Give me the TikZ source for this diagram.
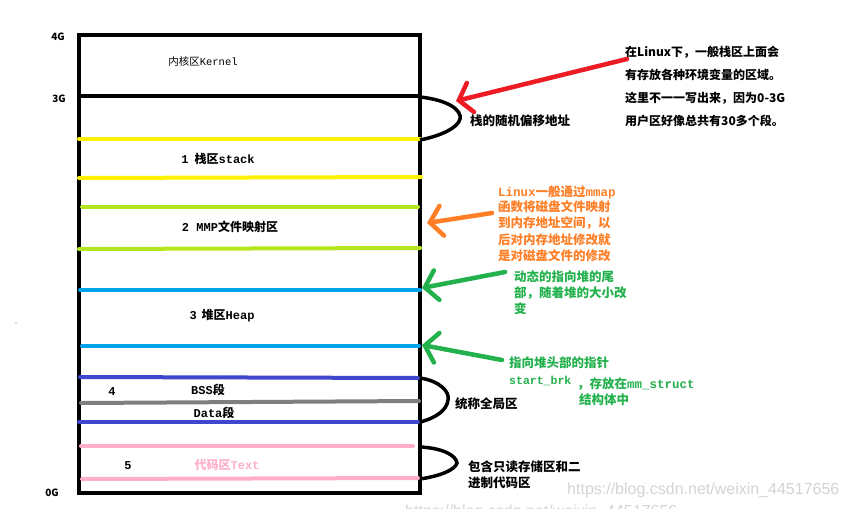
\documentclass[tikz,border=0pt]{standalone}
\usepackage{fontspec}
\setmainfont{Noto Sans CJK SC}
\newfontfamily\mono{Liberation Mono}
\newfontfamily\wmfont{Liberation Sans}
\usetikzlibrary{arrows.meta}
\definecolor{pyellow}{HTML}{FFF200}
\definecolor{plime}{HTML}{B5E61D}
\definecolor{psky}{HTML}{00A2E8}
\definecolor{pindigo}{HTML}{3F48CC}
\definecolor{pgray}{HTML}{7F7F7F}
\definecolor{ppink}{HTML}{FFAEC9}
\definecolor{pred}{HTML}{ED1C24}
\definecolor{porange}{HTML}{FF7F27}
\definecolor{pgreen}{HTML}{22B14C}
\definecolor{wmgray}{HTML}{D4D4D4}
\tikzset{
  seg/.style={line width=4pt, line cap=round},
  brace/.style={line width=3.5pt, black},
  lab/.style={font=\bfseries\fontsize{12}{14}\selectfont, inner sep=0pt},
  small/.style={font=\fontsize{10.5}{12}\selectfont, inner sep=0pt},
  note/.style={font=\bfseries\fontsize{12.5}{14}\selectfont, inner sep=0pt, anchor=west},
  wm/.style={font=\wmfont\fontsize{16}{18}\selectfont, text=wmgray, inner sep=0pt, anchor=west},
  parrow/.style={line width=4.5pt, line cap=round, line join=round,
     -{Straight Barb[length=12pt,width=30pt,line cap=round]}},
}
\begin{document}
\begin{tikzpicture}[x=1pt,y=-1pt]
\useasboundingbox (0,0) rectangle (850,508);
\fill[white] (0,0) rectangle (850,508);

% watermarks
\node[wm] (wm1) at (567,490) {https://blog.csdn.net/weixin\_44517656};
\begin{scope}
\clip (0,0) rectangle (850,508);
\node[wm] (wm2) at (405,512) {https://blog.csdn.net/weixin\_44517656};
\end{scope}

% box
\draw[line width=4pt] (79,35) rectangle (420,493);
\coordinate (boxL3) at (79,96);
\coordinate (boxR3) at (420,96);
\draw[line width=4pt] (boxL3) -- (boxR3);

% coloured separators
\draw[seg, pyellow] (79,139) -- (420,139);
\draw[seg, pyellow] (79,178) -- (421,177);
\draw[seg, plime] (82,207) -- (418,207);
\draw[seg, plime] (79,249) -- (420,248);
\draw[seg, psky] (80,290) -- (420,290);
\draw[seg, psky] (82,346) -- (419,346);
\draw[seg, pindigo] (80,377) -- (418,378);
\draw[seg, pgray] (81,403) -- (419,401);
\draw[seg, pindigo] (79,422) -- (418,422);
\draw[seg, ppink] (81,446) -- (413,446);
\draw[seg, ppink] (82,479) -- (418,478);

% address labels
\node[lab, font=\bfseries\fontsize{10}{12}\selectfont] (g4) at (58,37) {4G};
\node[lab, font=\bfseries\fontsize{10}{12}\selectfont] (g3) at (59,99) {3G};
\node[lab, font=\bfseries\fontsize{10}{12}\selectfont] (g0) at (52,493) {0G};

% region labels
\node[small] (kern) at (203,62) {内核区{\mono Kernel}};
\node[lab] (stk) at (218,159) {{\mono\bfseries 1}\hspace{6pt}栈区{\mono\bfseries stack}};
\node[lab] (mmp) at (230,227) {{\mono\bfseries 2 MMP}文件映射区};
\node[lab] (heap) at (222,316) {{\mono\bfseries 3}\hspace{5pt}堆区{\mono\bfseries Heap}};
\node[lab] (n4) at (112,392) {{\mono\bfseries 4}};
\node[lab] (bss) at (208,390) {{\mono\bfseries BSS}段};
\node[lab] (data) at (214,413) {{\mono\bfseries Data}段};
\node[lab] (n5) at (128,466) {{\mono\bfseries 5}};
\node[lab, text=ppink] (text) at (227,465) {代码区{\mono\bfseries Text}};

% braces
\coordinate (b1t) at (420,97);
\coordinate (b1a) at (460,119);
\coordinate (b1b) at (420,140);
\draw[brace] (b1t) .. controls (448,100) and (462,110) .. (b1a) .. controls (458,128) and (440,136) .. (b1b);
\coordinate (b2t) at (420,378);
\coordinate (b2a) at (448,400);
\coordinate (b2b) at (420,422);
\draw[brace] (b2t) .. controls (440,381) and (450,392) .. (b2a) .. controls (447,410) and (436,418) .. (b2b);
\coordinate (b3t) at (420,447);
\coordinate (b3a) at (457,463);
\coordinate (b3b) at (420,479);
\draw[brace] (b3t) .. controls (442,448) and (456,455) .. (b3a) .. controls (455,470) and (440,476) .. (b3b);

\node[note] (rnd) at (470,121) {栈的随机偏移地址};
\node[note] (glob) at (455,404) {统称全局区};
\node[note] (ro1) at (468,467) {包含只读存储区和二};
\node[note] (ro2) at (468,483) {进制代码区};

% red note
\node[note, font=\bfseries\fontsize{12}{14}\selectfont] (r1) at (625,52) {在Linux下，一般栈区上面会};
\node[note, font=\bfseries\fontsize{12}{14}\selectfont] (r2) at (625,75) {有存放各种环境变量的区域。};
\node[note, font=\bfseries\fontsize{12}{14}\selectfont] (r3) at (625,98) {这里不一一写出来，因为0-3G};
\node[note, font=\bfseries\fontsize{12}{14}\selectfont] (r4) at (625,121) {用户区好像总共有30多个段。};
\coordinate (ra) at (627,59);
\coordinate (rb) at (456,101);
\draw[parrow, pred] (ra) -- (rb);

% orange note
\node[note, text=porange] (o1) at (498,192) {{\mono\bfseries Linux}一般通过{\mono\bfseries mmap}};
\node[note, text=porange] (o2) at (498,207) {函数将磁盘文件映射};
\node[note, text=porange] (o3) at (498,223) {到内存地址空间，以};
\node[note, text=porange] (o4) at (498,240) {后对内存地址修改就};
\node[note, text=porange] (o5) at (498,256) {是对磁盘文件的修改};
\coordinate (oa) at (492,213);
\coordinate (ob) at (427,223);
\draw[parrow, porange] (oa) -- (ob);

% green note 1
\node[note, text=pgreen] (g1a) at (514,277) {动态的指向堆的尾};
\node[note, text=pgreen] (g1b) at (514,293) {部，随着堆的大小改};
\node[note, text=pgreen] (g1c) at (514,309) {变};
\coordinate (ga) at (505,272);
\coordinate (gb) at (422,288);
\draw[parrow, pgreen] (ga) -- (gb);

% green note 2
\node[note, text=pgreen] (g2a) at (509,363) {指向堆头部的指针};
\node[note, text=pgreen, font=\mono\bfseries\fontsize{11.5}{13}\selectfont] (g2b) at (509,381) {start\_brk};
\begin{scope}
\clip (0,0) rectangle (692,508);
\node[note, text=pgreen] (g2c) at (577,384) {，存放在{\mono\bfseries mm\_struct}};
\end{scope}
\node[note, text=pgreen] (g2d) at (579,400) {结构体中};
\coordinate (ha) at (502,360);
\coordinate (hb) at (422,345);
\draw[parrow, pgreen] (ha) -- (hb);

% stray dot
\fill[black!60] (16,323) circle (0.7pt);
\end{tikzpicture}
\end{document}
